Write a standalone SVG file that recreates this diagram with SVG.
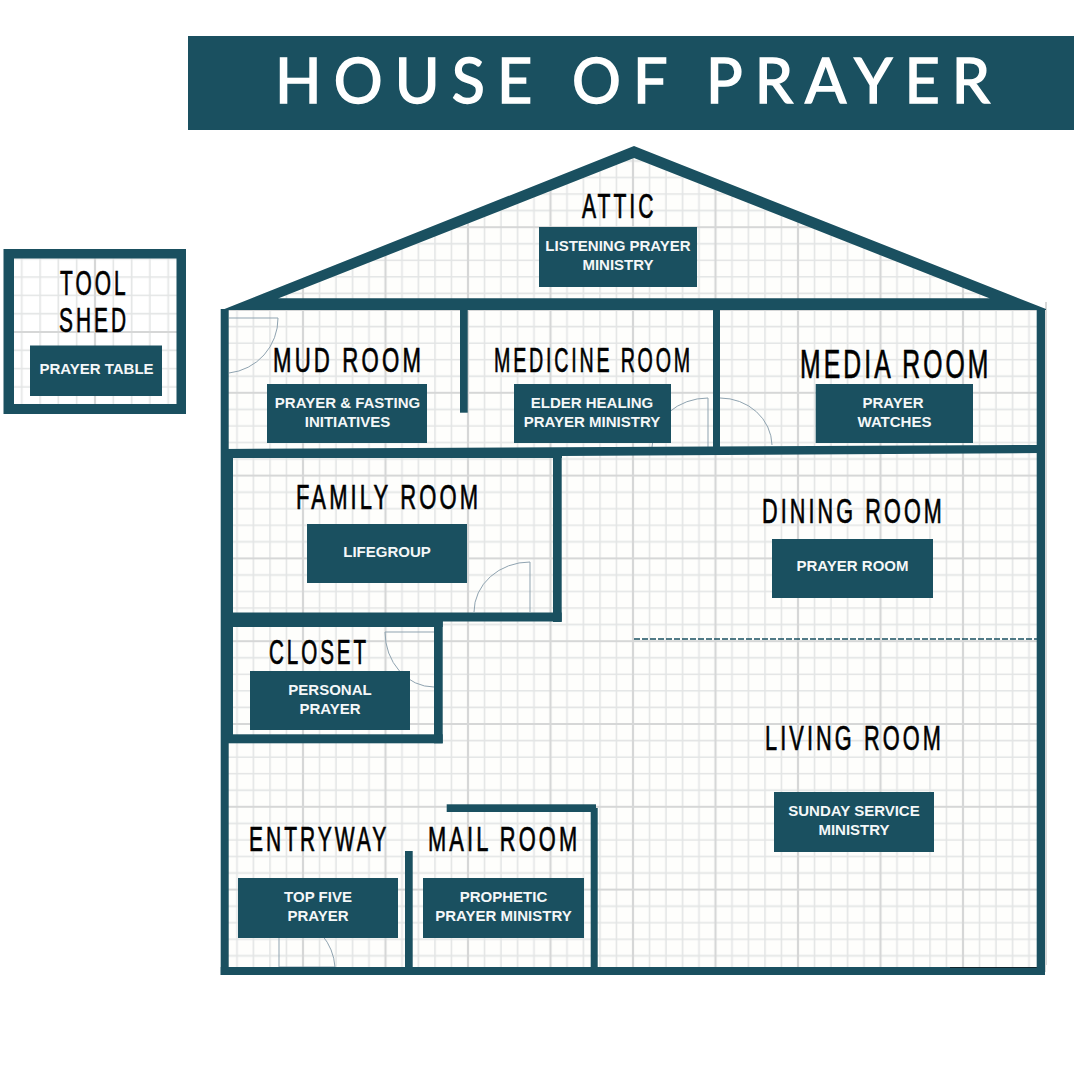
<svg xmlns="http://www.w3.org/2000/svg" width="1080" height="1080" viewBox="0 0 1080 1080">
<style>
.wall{fill:#1a5060}
.box{fill:#1a5060}
.door{fill:none;stroke:#8fa3b0;stroke-width:1}
.h{font-family:"Liberation Sans",Arial,sans-serif;font-size:35px;letter-spacing:5px;fill:#000;stroke:#000;stroke-width:.7}
.l{font-family:"Liberation Sans",Arial,sans-serif;font-weight:700;font-size:15px;fill:#f4f7f8;text-anchor:middle}
.minor{stroke:#e3e5e5;stroke-width:1.6;fill:none}
.major{stroke:#d6d7d7;stroke-width:2.2;fill:none}
</style>
<defs>
<pattern id="gridHouse" patternUnits="userSpaceOnUse" x="220.5" y="310" width="82.5" height="82.8">
<path class="minor" d="M16.5 0V82.8M33 0V82.8M49.5 0V82.8M66 0V82.8M0 16.56H82.5M0 33.12H82.5M0 49.68H82.5M0 66.24H82.5"/>
<path class="major" d="M0 0V82.8M82.5 0V82.8M0 0H82.5M0 82.8H82.5"/>
</pattern>
<pattern id="gridShed" patternUnits="userSpaceOnUse" x="3.5" y="240.5" width="91.5" height="91.5">
<path class="minor" d="M18.3 0V91.5M36.6 0V91.5M54.9 0V91.5M73.2 0V91.5M0 18.3H91.5M0 36.6H91.5M0 54.9H91.5M0 73.2H91.5"/>
<path class="major" d="M0 0V91.5M91.5 0V91.5M0 0H91.5M0 91.5H91.5"/>
</pattern>
</defs>
<rect width="1080" height="1080" fill="#fff"/>
<g id="title"><rect class="box" x="188" y="36" width="886" height="94"/>
<text x="275" y="103" textLength="715" font-family="Lato,Inter,sans-serif" font-size="61" stroke="#fff" stroke-width="1.5" fill="#fff">HOUSE OF PRAYER</text></g>
<path id="house-grid" d="M222 310L634 147L1046 310V972H222Z" fill="#fefefc"/>
<path d="M222 310L634 147L1046 310V972H222Z" fill="url(#gridHouse)"/>
<path d="M1046 302V965" stroke="#d8d9d9" stroke-width="2" fill="none"/>
<rect x="4" y="249" width="182" height="165" fill="#fff"/>
<rect x="4" y="249" width="182" height="165" fill="url(#gridShed)"/>
<g id="doors">
<path class="door" d="M229 318H278A55 55 0 0 1 229 373"/>
<path class="door" d="M652 447A56 50 0 0 1 708 398V448"/>
<path class="door" d="M720 398A52 48 0 0 1 772 445"/>
<path class="door" d="M474 612A56 50 0 0 1 530 562V612"/>
<path class="door" d="M434 632H385A49 55 0 0 0 434 687"/>
<path class="door" d="M279 938V967H335A56 56 0 0 0 322 935"/>
</g>
<g id="walls">
<path class="wall" fill-rule="evenodd" d="M3.500 249H186V414H3.500ZM14 258.500V404H176.500V258.500Z"/>
<path class="wall" fill-rule="evenodd" d="M222 310L634 146L1046 309V310H222ZM278 298.500H990L634 158Z"/>
<rect class="wall" x="270" y="298.500" width="730" height="11"/>
<rect class="wall" x="220.700" y="309" width="8" height="666"/>
<rect class="wall" x="1036.700" y="309" width="8.300" height="666"/>
<rect class="wall" x="220.700" y="967" width="824.300" height="8"/>
<path class="wall" d="M221 449L1040 445V453L562 456V458H221Z"/>
<rect class="wall" x="228" y="449" width="5" height="294"/>
<rect class="wall" x="553" y="452" width="8.700" height="170"/>
<rect class="wall" x="228" y="612.500" width="333.700" height="9"/>
<rect class="wall" x="228" y="620" width="214.700" height="7"/>
<rect class="wall" x="434" y="620" width="8.700" height="123.300"/>
<rect class="wall" x="228" y="734.300" width="214.700" height="9"/>
<rect class="wall" x="460" y="309" width="7.700" height="103.700"/>
<rect class="wall" x="713" y="309" width="7" height="141"/>
<rect class="wall" x="405" y="851" width="7.700" height="116"/>
<rect class="wall" x="446.700" y="804.300" width="149.300" height="7.700"/>
<rect class="wall" x="590.700" y="808" width="7" height="160"/>
<path d="M950 967.500H1036.700" stroke="#10262e" stroke-width="1" fill="none"/>
<path d="M634 639H1037" stroke="#1a5060" stroke-width="1.500" stroke-dasharray="6 2" fill="none"/>
</g>
<g id="attic"><text class="h" transform="translate(582 218) scale(.603 1)">ATTIC</text><rect class="box" x="539" y="227" width="158" height="60"/><text class="l" x="618" y="251">LISTENING PRAYER</text><text class="l" x="618" y="270">MINISTRY</text></g>
<g id="tool-shed"><text class="h" transform="translate(60 294.500) scale(.598 1)">TOOL</text><text class="h" transform="translate(59 332) scale(.597 1)">SHED</text><rect class="box" x="30" y="345.500" width="132" height="50.500"/><text class="l" x="96.500" y="374">PRAYER TABLE</text></g>
<g id="mud-room"><text class="h" transform="translate(273 372) scale(.634 1)">MUD ROOM</text><rect class="box" x="267" y="384" width="160" height="59"/><text class="l" x="347.500" y="408">PRAYER &amp; FASTING</text><text class="l" x="347.500" y="427">INITIATIVES</text></g>
<g id="medicine-room"><text class="h" transform="translate(494 372) scale(.561 1)">MEDICINE ROOM</text><rect class="box" x="514" y="384" width="157" height="59"/><text class="l" x="592" y="408">ELDER HEALING</text><text class="l" x="592" y="427">PRAYER MINISTRY</text></g>
<g id="media-room"><text class="h" transform="translate(800 378) scale(.618 1)" style="font-size:40px">MEDIA ROOM</text><rect class="box" x="815.700" y="384" width="157.300" height="59"/><text class="l" x="893" y="408">PRAYER</text><text class="l" x="894.500" y="427">WATCHES</text></g>
<g id="family-room"><text class="h" transform="translate(296 509) scale(.628 1)">FAMILY ROOM</text><rect class="box" x="307" y="524" width="160" height="59"/><text class="l" x="387" y="557">LIFEGROUP</text></g>
<g id="dining-room"><text class="h" transform="translate(762 523) scale(.618 1)">DINING ROOM</text><rect class="box" x="772" y="539" width="161" height="59"/><text class="l" x="852.500" y="571">PRAYER ROOM</text></g>
<g id="closet"><text class="h" transform="translate(269 664) scale(.588 1)">CLOSET</text><rect class="box" x="250" y="671" width="160" height="59"/><text class="l" x="330" y="695">PERSONAL</text><text class="l" x="330" y="714">PRAYER</text></g>
<g id="living-room"><text class="h" transform="translate(765 750) scale(.621 1)">LIVING ROOM</text><rect class="box" x="774" y="792" width="160" height="60"/><text class="l" x="854" y="816">SUNDAY SERVICE</text><text class="l" x="854" y="835">MINISTRY</text></g>
<g id="entryway"><text class="h" transform="translate(249 851) scale(.6 1)">ENTRYWAY</text><rect class="box" x="238" y="878" width="160" height="60"/><text class="l" x="318" y="902">TOP FIVE</text><text class="l" x="318" y="921">PRAYER</text></g>
<g id="mail-room"><text class="h" transform="translate(428 851) scale(.624 1)">MAIL ROOM</text><rect class="box" x="423" y="878" width="161" height="60"/><text class="l" x="503.500" y="902">PROPHETIC</text><text class="l" x="503.500" y="921">PRAYER MINISTRY</text></g>
</svg>
